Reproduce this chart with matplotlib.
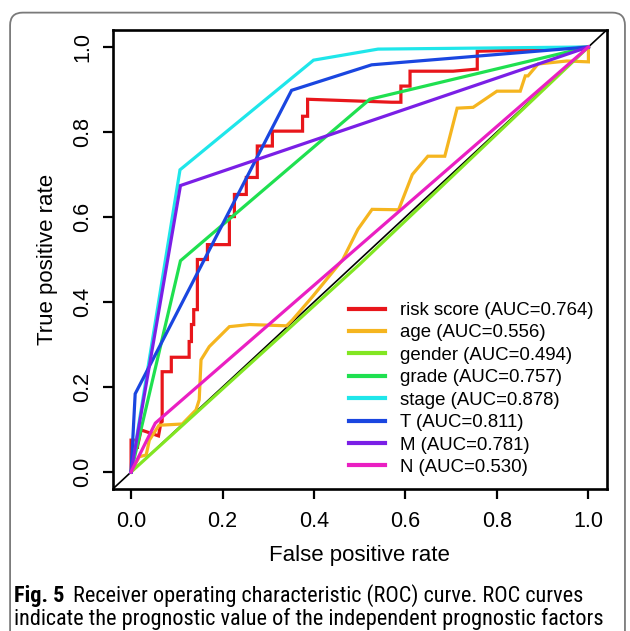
"""ROC curves of the independent prognostic factors (Fig. 5)."""

import matplotlib

matplotlib.use("Agg")
import matplotlib.pyplot as plt
from matplotlib import font_manager
from matplotlib.patches import FancyBboxPatch

# ---- data -------------------------------------------------------------
labels = [
    "risk score (AUC=0.764)",
    "age (AUC=0.556)",
    "gender (AUC=0.494)",
    "grade (AUC=0.757)",
    "stage (AUC=0.878)",
    "T (AUC=0.811)",
    "M (AUC=0.781)",
    "N (AUC=0.530)",
]

risk_fpr = [0.0, 0.0, 0.013, 0.013, 0.022, 0.06, 0.066, 0.068, 0.068, 0.088, 0.088,
            0.127, 0.127, 0.132, 0.132, 0.137, 0.137, 0.145, 0.145, 0.167, 0.167,
            0.215, 0.215, 0.226, 0.226, 0.252, 0.252, 0.276, 0.276, 0.309, 0.309,
            0.375, 0.375, 0.386, 0.386, 0.57, 0.59, 0.59, 0.61, 0.61, 0.704,
            0.757, 0.757, 0.87, 1.0]
risk_tpr = [0.0, 0.075, 0.075, 0.055, 0.099, 0.085, 0.12, 0.12, 0.236, 0.236, 0.27,
            0.27, 0.307, 0.307, 0.347, 0.347, 0.382, 0.382, 0.5, 0.5, 0.535,
            0.535, 0.601, 0.601, 0.653, 0.653, 0.693, 0.693, 0.767, 0.767, 0.802,
            0.802, 0.837, 0.837, 0.877, 0.87, 0.87, 0.908, 0.908, 0.943, 0.943,
            0.948, 0.99, 0.993, 1.0]

age_fpr = [0.0, 0.018, 0.033, 0.04, 0.061, 0.112, 0.142, 0.149, 0.153, 0.171, 0.215,
           0.259, 0.34, 0.353, 0.397, 0.463, 0.496, 0.527, 0.585, 0.615, 0.649,
           0.686, 0.713, 0.748, 0.80, 0.851, 0.862, 0.868, 0.89, 0.953, 1.0, 1.0]
age_tpr = [0.0, 0.036, 0.04, 0.075, 0.11, 0.113, 0.146, 0.17, 0.264, 0.295, 0.342,
           0.347, 0.344, 0.358, 0.413, 0.50, 0.571, 0.618, 0.617, 0.70, 0.743,
           0.743, 0.856, 0.858, 0.896, 0.896, 0.932, 0.932, 0.96, 0.967, 0.965, 1.0]

gender_fpr = [0.0, 0.5, 1.0]
gender_tpr = [0.0, 0.489, 1.0]

grade_fpr = [0.0, 0.108, 0.522, 1.0]
grade_tpr = [0.0, 0.497, 0.877, 1.0]

stage_fpr = [0.0, 0.107, 0.399, 0.54, 1.0]
stage_tpr = [0.0, 0.711, 0.969, 0.995, 1.0]

t_fpr = [0.0, 0.009, 0.351, 0.526, 1.0]
t_tpr = [0.0, 0.184, 0.898, 0.958, 1.0]

m_fpr = [0.0, 0.108, 1.0]
m_tpr = [0.0, 0.674, 1.0]

n_fpr = [0.0, 0.053, 1.0]
n_tpr = [0.0, 0.115, 1.0]

ticks = [0.0, 0.2, 0.4, 0.6, 0.8, 1.0]
tick_labels = ["0.0", "0.2", "0.4", "0.6", "0.8", "1.0"]

colors = ["#E8161B", "#F5B51F", "#82E622", "#1FE050",
          "#1FE6EA", "#1A46E0", "#7A1FE6", "#EA1FC2"]

caption_bold = "Fig. 5"
caption_line1 = "Receiver operating characteristic (ROC) curve. ROC curves"
caption_line2 = "indicate the prognostic value of the independent prognostic factors"


def _pick_font(candidates):
    names = {f.name for f in font_manager.fontManager.ttflist}
    for name in candidates:
        if name in names:
            return name
    return "DejaVu Sans"


axis_font = _pick_font(["Liberation Sans", "Roboto"])
caption_font = _pick_font(["Liberation Sans Narrow", "Roboto Condensed", "Open Sans"])

plt.rcParams["font.family"] = [axis_font, "DejaVu Sans"]

fig = plt.figure(figsize=(6.30, 6.31), dpi=100)
ax = fig.add_axes([0.179, 0.225, 0.784, 0.7275])

curves = [
    (risk_fpr, risk_tpr),
    (age_fpr, age_tpr),
    (gender_fpr, gender_tpr),
    (grade_fpr, grade_tpr),
    (stage_fpr, stage_tpr),
    (t_fpr, t_tpr),
    (m_fpr, m_tpr),
    (n_fpr, n_tpr),
]
for (fpr, tpr), color, label in zip(curves, colors, labels):
    ax.plot(fpr, tpr, color=color, lw=2.3, label=label, solid_joinstyle="miter")

ax.plot([-0.04, 1.04], [-0.04, 1.04], color="black", lw=1.2, zorder=1.5)

ax.set_xlim(-0.04, 1.04)
ax.set_ylim(-0.04, 1.04)
ax.set_xticks(ticks)
ax.set_xticklabels(tick_labels)
ax.set_yticks(ticks)
ax.set_yticklabels(tick_labels, rotation=90, va="center")
ax.tick_params(axis="both", direction="out", length=7, width=1.6,
               labelsize=15.5, colors="black")
ax.tick_params(axis="x", pad=9)
ax.tick_params(axis="y", pad=7)
for spine in ax.spines.values():
    spine.set_linewidth(1.9)

ax.set_xlabel("False positive rate", fontsize=16, labelpad=9)
ax.set_ylabel("True positive rate", fontsize=16, labelpad=10)

leg = ax.legend(loc="lower right", frameon=False, fontsize=13.4,
                handlelength=1.95, handletextpad=0.8, labelspacing=0.29,
                borderaxespad=0.3)
for line in leg.get_lines():
    line.set_linewidth(3)

# rounded figure border and caption
border = FancyBboxPatch((0.016, -0.05), 0.976, 1.03,
                        boxstyle="round,pad=0,rounding_size=0.02",
                        transform=fig.transFigure, fill=False,
                        edgecolor="#7a7a7a", lw=1.3)
fig.patches.append(border)

bold = fig.text(0.023, 0.0465, caption_bold, fontsize=16, fontweight="bold",
                family=[caption_font, "DejaVu Sans"], va="baseline")
ax.annotate(caption_line1, xy=(1, 0), xycoords=bold, xytext=(6, 0),
            textcoords="offset points", fontsize=16, va="bottom",
            family=[caption_font, "DejaVu Sans"], annotation_clip=False)
fig.text(0.023, 0.0095, caption_line2, fontsize=16, va="baseline",
         family=[caption_font, "DejaVu Sans"])

fig.savefig("out.png", dpi=100)
